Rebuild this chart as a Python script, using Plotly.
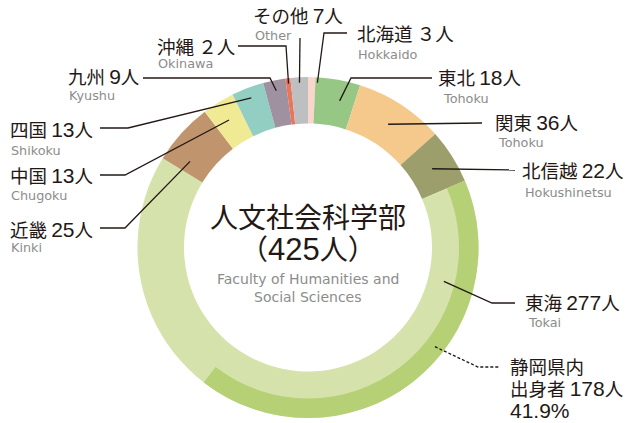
import math
import plotly.graph_objects as go

# ---------------- data ----------------
regions_ja = ["北海道", "東北", "関東", "北信越", "東海", "近畿", "中国", "四国", "九州", "沖縄", "その他"]
regions_en = ["Hokkaido", "Tohoku", "Tohoku", "Hokushinetsu", "Tokai", "Kinki", "Chugoku", "Shikoku", "Kyushu", "Okinawa", "Other"]
counts = [3, 18, 36, 22, 277, 25, 13, 13, 9, 2, 7]
count_labels = ["３", "18", "36", "22", "277", "25", "13", "13", "9", "２", "7"]
shizuoka_count = 178
shizuoka_pct = "41.9%"
faculty_ja = "人文社会科学部"
faculty_en = ["Faculty of Humanities and", "Social Sciences"]

colors = ["#F8D6CB", "#97C784", "#F5C98B", "#9C9E6B", "#D6E2AB",
          "#C0956E", "#F1EA94", "#93CEC3", "#9F91A0", "#E7765C", "#BEBFC1"]
band_color = "#B5D075"

total = sum(counts)

# ---------------- geometry (pixels) ----------------
W, H = 630, 423
CX, CY = 308, 247.5
R_OUT = 170.5
R_IN = 124
R_BAND = 151


def px(x):
    return x / W


def py(y):
    return 1 - y / H


dom_x = [px(CX - R_OUT), px(CX + R_OUT)]
dom_y = [py(CY + R_OUT), py(CY - R_OUT)]

# cumulative angles (clockwise from 12 o'clock)
starts = []
acc = 0
for c in counts:
    starts.append(acc / total * 360)
    acc += c
mids = [starts[i] + counts[i] / total * 180 for i in range(len(counts))]
tokai_start = starts[regions_ja.index("東海")]


def polar(angle_deg, r):
    a = math.radians(angle_deg)
    return CX + r * math.sin(a), CY - r * math.cos(a)


fig = go.Figure()
fig.add_trace(go.Pie(
    values=counts, labels=regions_ja, sort=False, direction="clockwise", rotation=0,
    hole=R_IN / R_OUT, marker=dict(colors=colors, line=dict(width=0)),
    textinfo="none", hoverinfo="label+value", showlegend=False,
    domain=dict(x=dom_x, y=dom_y)))
fig.add_trace(go.Pie(
    values=[shizuoka_count, total - shizuoka_count], labels=["静岡県内", "県外"], sort=False,
    direction="clockwise", rotation=tokai_start,
    hole=R_BAND / R_OUT, marker=dict(colors=[band_color, "rgba(0,0,0,0)"], line=dict(width=0)),
    textinfo="none", hoverinfo="skip", showlegend=False,
    domain=dict(x=dom_x, y=dom_y)))

JA_FONT = "Noto Sans CJK JP"
NUM_FONT = "Liberation Sans"
EN_FONT = "DejaVu Sans"
DARK = "#231815"
GRAY = "#8C8C8C"

annotations = []
shapes = []


def num(s, size):
    if s.isascii():
        return f"<span style='font-family:{NUM_FONT};font-size:{size}px'>{s}</span>"
    return s


def add_text(x, y, text, size, color, family, anchor="left"):
    annotations.append(dict(x=px(x), y=py(y), xref="paper", yref="paper", text=text,
                            showarrow=False, xanchor=anchor, yanchor="middle",
                            font=dict(size=size, color=color, family=family)))


def add_path(points, dash="solid"):
    d = "M " + " L ".join(f"{px(x)},{py(y)}" for x, y in points)
    shapes.append(dict(type="path", path=d, xref="paper", yref="paper",
                       line=dict(color=DARK, width=1.3, dash=dash)))


# label layout: ja text pos, en text pos, leader anchor (angle, radius), leader path after anchor
label_layout = {
    "北海道": dict(t=(355, 33), e=(356, 55), a=(mids[0] + 2, 165), path=[(324, 33), (347, 33)]),
    "東北": dict(t=(436, 77), e=(441, 98), a=(mids[1] + 2, 150), path=[(351, 78), (432, 78)]),
    "関東": dict(t=(493, 122), e=(496, 143), a=(mids[2], 147), path=[(482, 123)]),
    "北信越": dict(t=(520, 170), e=(523, 192), a=(mids[3], 147), path=[(515, 170)]),
    "東海": dict(t=(523, 302), e=(526, 322), a=(104, 140), path=[(492, 303), (515, 303)]),
    "近畿": dict(t=(8, 229), e=(9, 248), a=(mids[5] - 6, 146), path=[(125, 228), (100, 228)]),
    "中国": dict(t=(8, 175), e=(9, 195), a=(mids[6], 150), path=[(125, 175), (100, 175)]),
    "四国": dict(t=(8, 129), e=(9, 150), a=(mids[7], 160), path=[(128, 128), (100, 128)]),
    "九州": dict(t=(66, 76), e=(67, 95), a=(mids[8], 160), path=[(270, 78), (143, 78)]),
    "沖縄": dict(t=(155, 46), e=(156, 63), a=(mids[9], 165), path=[(286, 46), (238, 46)]),
    "その他": dict(t=(251, 15), e=(253, 35), a=(mids[10], 165), path=[(300, 38)]),
}

for i, name in enumerate(regions_ja):
    L = label_layout[name]
    add_text(L["t"][0], L["t"][1], f"{name} {num(count_labels[i], 21)}人", 18.5, DARK, JA_FONT)
    add_text(L["e"][0], L["e"][1], regions_en[i], 12.8, GRAY, EN_FONT)
    ax, ay = polar(*L["a"])
    add_path([(ax, ay)] + L["path"])

# Shizuoka band label
sx, sy = polar(128, 161)
add_path([(sx, sy), (478, 367), (500, 367)], dash="3px,2px")
add_text(508, 366, "静岡県内", 18.5, DARK, JA_FONT)
add_text(508, 388, f"出身者 {num(str(shizuoka_count), 21)}人", 18.5, DARK, JA_FONT)
add_text(508, 410, num(shizuoka_pct, 21), 18.5, DARK, JA_FONT)

# center text
add_text(CX, 216, faculty_ja, 28, DARK, JA_FONT, anchor="center")
add_text(CX, 248, f"（{num(str(total), 31)}人）", 28, DARK, JA_FONT, anchor="center")
add_text(CX, 279, faculty_en[0], 14, GRAY, EN_FONT, anchor="center")
add_text(CX, 297, faculty_en[1], 14, GRAY, EN_FONT, anchor="center")

fig.update_layout(width=W, height=H, margin=dict(l=0, r=0, t=0, b=0),
                  paper_bgcolor="white", plot_bgcolor="white",
                  annotations=annotations, shapes=shapes, showlegend=False)

fig.write_html("out.html", config={"displayModeBar": False},
               post_script="document.body.style.margin='0';")
